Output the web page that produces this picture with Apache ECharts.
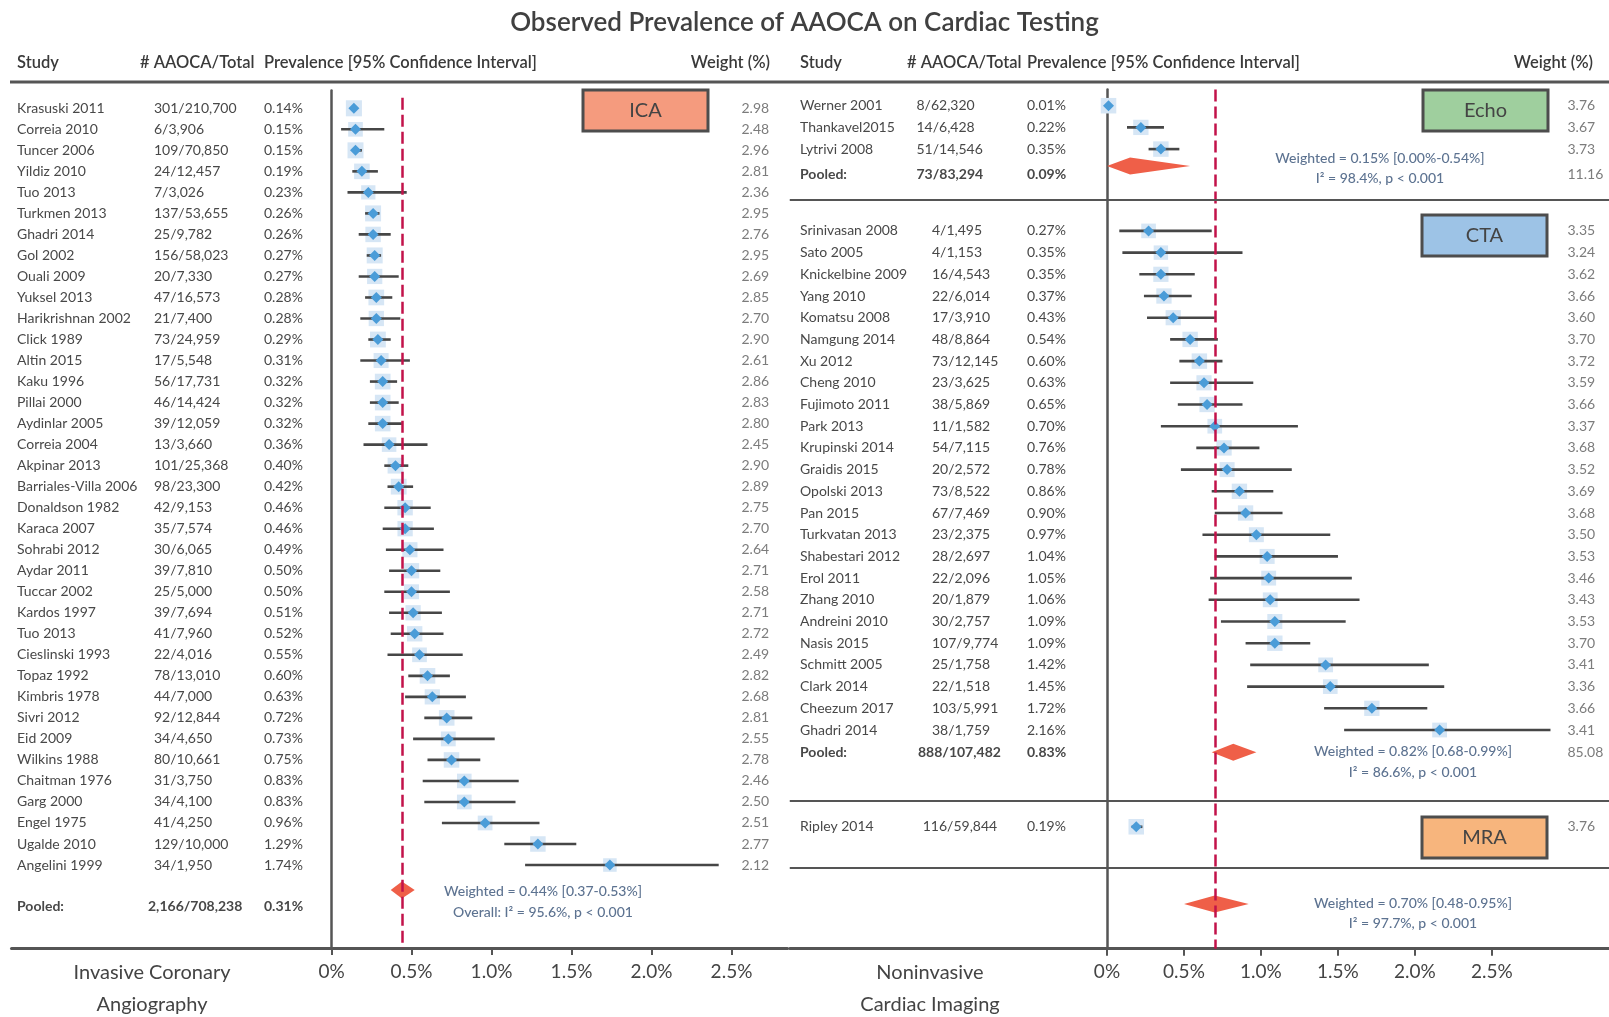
<!DOCTYPE html>
<html>
<head>
<meta charset="utf-8">
<title>Observed Prevalence of AAOCA on Cardiac Testing</title>
<script src="https://cdn.jsdelivr.net/npm/echarts@6.0.0/dist/echarts.min.js"></script>
<style>
  html, body { margin: 0; padding: 0; background: #fff; }
  #chart { width: 1609px; height: 1017px; }
</style>
</head>
<body>
<div id="chart"></div>
<script>
// ---- ICA (invasive coronary angiography) ----
const icaStudies = ['Krasuski 2011', 'Correia 2010', 'Tuncer 2006', 'Yildiz 2010', 'Tuo 2013', 'Turkmen 2013',
  'Ghadri 2014', 'Gol 2002', 'Ouali 2009', 'Yuksel 2013', 'Harikrishnan 2002', 'Click 1989', 'Altin 2015',
  'Kaku 1996', 'Pillai 2000', 'Aydinlar 2005', 'Correia 2004', 'Akpinar 2013', 'Barriales-Villa 2006',
  'Donaldson 1982', 'Karaca 2007', 'Sohrabi 2012', 'Aydar 2011', 'Tuccar 2002', 'Kardos 1997', 'Tuo 2013',
  'Cieslinski 1993', 'Topaz 1992', 'Kimbris 1978', 'Sivri 2012', 'Eid 2009', 'Wilkins 1988', 'Chaitman 1976',
  'Garg 2000', 'Engel 1975', 'Ugalde 2010', 'Angelini 1999'];
const icaCounts = ['301/210,700', '6/3,906', '109/70,850', '24/12,457', '7/3,026', '137/53,655', '25/9,782',
  '156/58,023', '20/7,330', '47/16,573', '21/7,400', '73/24,959', '17/5,548', '56/17,731', '46/14,424',
  '39/12,059', '13/3,660', '101/25,368', '98/23,300', '42/9,153', '35/7,574', '30/6,065', '39/7,810',
  '25/5,000', '39/7,694', '41/7,960', '22/4,016', '78/13,010', '44/7,000', '92/12,844', '34/4,650',
  '80/10,661', '31/3,750', '34/4,100', '41/4,250', '129/10,000', '34/1,950'];
const icaPrev = [0.14, 0.15, 0.15, 0.19, 0.23, 0.26, 0.26, 0.27, 0.27, 0.28, 0.28, 0.29, 0.31, 0.32, 0.32, 0.32,
  0.36, 0.40, 0.42, 0.46, 0.46, 0.49, 0.50, 0.50, 0.51, 0.52, 0.55, 0.60, 0.63, 0.72, 0.73, 0.75, 0.83, 0.83,
  0.96, 1.29, 1.74];
const icaLow = [0.12, 0.06, 0.13, 0.13, 0.10, 0.21, 0.17, 0.22, 0.17, 0.21, 0.18, 0.23, 0.18, 0.24, 0.24, 0.23,
  0.20, 0.33, 0.35, 0.33, 0.32, 0.34, 0.36, 0.33, 0.36, 0.37, 0.35, 0.48, 0.46, 0.58, 0.51, 0.60, 0.57, 0.58,
  0.69, 1.08, 1.21];
const icaHigh = [0.16, 0.33, 0.19, 0.29, 0.47, 0.30, 0.37, 0.31, 0.42, 0.38, 0.43, 0.37, 0.49, 0.41, 0.42, 0.44,
  0.60, 0.48, 0.51, 0.62, 0.64, 0.70, 0.68, 0.74, 0.69, 0.70, 0.82, 0.74, 0.84, 0.88, 1.02, 0.93, 1.17, 1.15,
  1.30, 1.53, 2.42];
const icaWeight = [2.98, 2.48, 2.96, 2.81, 2.36, 2.95, 2.76, 2.95, 2.69, 2.85, 2.70, 2.90, 2.61, 2.86, 2.83, 2.80,
  2.45, 2.90, 2.89, 2.75, 2.70, 2.64, 2.71, 2.58, 2.71, 2.72, 2.49, 2.82, 2.68, 2.81, 2.55, 2.78, 2.46, 2.50,
  2.51, 2.77, 2.12];

// ---- Echo ----
const echoStudies = ['Werner 2001', 'Thankavel2015', 'Lytrivi 2008'];
const echoCounts = ['8/62,320', '14/6,428', '51/14,546'];
const echoPrev = [0.01, 0.22, 0.35];
const echoLow = [0.00, 0.13, 0.27];
const echoHigh = [0.02, 0.37, 0.47];
const echoWeight = [3.76, 3.67, 3.73];

// ---- CTA ----
const ctaStudies = ['Srinivasan 2008', 'Sato 2005', 'Knickelbine 2009', 'Yang 2010', 'Komatsu 2008',
  'Namgung 2014', 'Xu 2012', 'Cheng 2010', 'Fujimoto 2011', 'Park 2013', 'Krupinski 2014', 'Graidis 2015',
  'Opolski 2013', 'Pan 2015', 'Turkvatan 2013', 'Shabestari 2012', 'Erol 2011', 'Zhang 2010', 'Andreini 2010',
  'Nasis 2015', 'Schmitt 2005', 'Clark 2014', 'Cheezum 2017', 'Ghadri 2014'];
const ctaCounts = ['4/1,495', '4/1,153', '16/4,543', '22/6,014', '17/3,910', '48/8,864', '73/12,145', '23/3,625',
  '38/5,869', '11/1,582', '54/7,115', '20/2,572', '73/8,522', '67/7,469', '23/2,375', '28/2,697', '22/2,096',
  '20/1,879', '30/2,757', '107/9,774', '25/1,758', '22/1,518', '103/5,991', '38/1,759'];
const ctaPrev = [0.27, 0.35, 0.35, 0.37, 0.43, 0.54, 0.60, 0.63, 0.65, 0.70, 0.76, 0.78, 0.86, 0.90, 0.97, 1.04,
  1.05, 1.06, 1.09, 1.09, 1.42, 1.45, 1.72, 2.16];
const ctaLow = [0.08, 0.10, 0.21, 0.24, 0.26, 0.41, 0.47, 0.41, 0.46, 0.35, 0.58, 0.48, 0.68, 0.70, 0.62, 0.70,
  0.67, 0.66, 0.74, 0.90, 0.93, 0.91, 1.41, 1.54];
const ctaHigh = [0.68, 0.88, 0.57, 0.55, 0.70, 0.72, 0.75, 0.95, 0.88, 1.24, 0.99, 1.20, 1.08, 1.14, 1.45, 1.50,
  1.59, 1.64, 1.55, 1.32, 2.09, 2.19, 2.08, 2.88];
const ctaWeight = [3.35, 3.24, 3.62, 3.66, 3.60, 3.70, 3.72, 3.59, 3.66, 3.37, 3.68, 3.52, 3.69, 3.68, 3.50, 3.53,
  3.46, 3.43, 3.53, 3.70, 3.41, 3.36, 3.66, 3.41];

// ---- MRA ----
const mraStudies = ['Ripley 2014'];
const mraCounts = ['116/59,844'];
const mraPrev = [0.19];
const mraLow = [0.16];
const mraHigh = [0.23];
const mraWeight = [3.76];

// ---- pooled estimates: ICA, Echo, CTA, overall noninvasive ----
const pooledCounts = ['2,166/708,238', '73/83,294', '888/107,482'];
const pooledPrev = ['0.31%', '0.09%', '0.83%'];
const pooledWeight = ['', '11.16', '85.08'];
const pooledEst = [0.44, 0.15, 0.82, 0.70];
const pooledLow = [0.37, 0.00, 0.68, 0.50];
const pooledHigh = [0.52, 0.54, 0.97, 0.92];
const statsLine1 = ['Weighted = 0.44% [0.37-0.53%]', 'Weighted = 0.15% [0.00%-0.54%]',
  'Weighted = 0.82% [0.68-0.99%]', 'Weighted = 0.70% [0.48-0.95%]'];
const statsLine2 = ['Overall: I² = 95.6%, p < 0.001', 'I² = 98.4%, p < 0.001',
  'I² = 86.6%, p < 0.001', 'I² = 97.7%, p < 0.001'];

const tickValues = [0, 0.5, 1, 1.5, 2, 2.5];

// ---- layout ----
const FONT = 'Lato, "Noto Sans", sans-serif';
const BODY = '14px ' + FONT;
const BOLD = 'bold 14px ' + FONT;
const L = { row0: 108.3, step: 21.02, min: -0.85, max: 39.95, zero: 331.5, perPct: 160, xMin: -2.0, xMax: 2.85 };
const R = { row0: 105.7, step: 21.7, min: -0.75, max: 38.85, zero: 1107, perPct: 154, xMin: -2.06, xMax: 3.26 };

const icaPos = icaStudies.map((s, i) => i);
const echoPos = echoStudies.map((s, i) => i);
const ctaPos = ctaStudies.map((s, i) => 5.77 + i);
const mraPos = [33.23];
const pooledTextPos = [37.95, 3.19, 29.8];
const diamondPos = [37.19, 2.78, 29.8, 36.79];
const statsPos = [[37.24, 38.24], [2.42, 3.35], [29.77, 30.72], [36.76, 37.68]];
const statsX = [543, 1380, 1413, 1413];

function gridOf(c) {
  return {
    left: c.zero + c.xMin * c.perPct,
    width: (c.xMax - c.xMin) * c.perPct,
    top: c.row0 + c.min * c.step,
    height: (c.max - c.min) * c.step
  };
}

function rowRender(k) {
  return function (params, api) {
    const pos = api.value(0);
    const c = api.coord([api.value(1), pos]);
    const lo = api.coord([api.value(2), pos]);
    const hi = api.coord([api.value(3), pos]);
    const s = k * Math.sqrt(api.value(4));
    const d = 5.5;
    return {
      type: 'group',
      children: [
        { type: 'rect', shape: { x: c[0] - s / 2, y: c[1] - s / 2, width: s, height: s }, style: { fill: '#d6e6f5' } },
        { type: 'line', shape: { x1: lo[0], y1: lo[1], x2: hi[0], y2: hi[1] }, style: { stroke: '#464646', lineWidth: 2.6 } },
        { type: 'polygon', shape: { points: [[c[0], c[1] - d], [c[0] + d, c[1]], [c[0], c[1] + d], [c[0] - d, c[1]]] },
          style: { fill: '#4a9cd8' } }
      ]
    };
  };
}

function rows(pos, prev, low, high, w) {
  return pos.map((p, i) => [p, prev[i], low[i], high[i], w[i]]);
}

function diamondRender(params, api) {
  const pos = api.value(0);
  const lo = api.coord([api.value(1), pos]);
  const mid = api.coord([api.value(2), pos]);
  const hi = api.coord([api.value(3), pos]);
  const h = 8.5;
  return {
    type: 'polygon',
    shape: { points: [[lo[0], lo[1]], [mid[0], mid[1] - h], [hi[0], hi[1]], [mid[0], mid[1] + h]] },
    style: { fill: '#ef5f48' }
  };
}

// one text column drawn at a fixed x, rows placed by the y axis
function textSeries(axis, x, pos, texts, opt) {
  opt = opt || {};
  return {
    type: 'custom', xAxisIndex: axis, yAxisIndex: axis, silent: true, z: 5,
    data: pos.map(p => [0, p]),
    renderItem: function (params, api) {
      const y = api.coord([0, api.value(1)])[1];
      return {
        type: 'text', x: x, y: y,
        style: {
          text: texts[params.dataIndex], font: opt.font || BODY, fill: opt.color || '#484848',
          align: opt.align || 'left', verticalAlign: 'middle'
        }
      };
    }
  };
}

const fmtPct = v => v.toFixed(2) + '%';
const fmtW = v => v.toFixed(2);
const STAT = { font: '500 14px ' + FONT, color: '#5d7391', align: 'center' };
const WCOL = { color: '#7c7c7c' };

const xAxisBase = (c, idx) => ({
  gridIndex: idx, type: 'value', min: c.xMin, max: c.xMax,
  axisLine: { onZero: false, lineStyle: { color: '#555', width: 3 } },
  axisTick: { customValues: tickValues, length: 7, lineStyle: { color: '#555', width: 2 } },
  axisLabel: {
    customValues: tickValues, margin: 14, fontSize: 19, color: '#444', fontFamily: FONT,
    formatter: v => (v === 0 ? '0%' : v.toFixed(1) + '%')
  },
  splitLine: { show: false }
});
const yAxisBase = (c, idx) => ({
  gridIndex: idx, type: 'value', inverse: true, min: c.min, max: c.max,
  axisLine: { show: true, onZero: true, lineStyle: { color: '#555', width: 2.5 } },
  axisTick: { show: false }, axisLabel: { show: false }, splitLine: { show: false }
});

const redLine = {
  silent: true, symbol: 'none', label: { show: false },
  lineStyle: { color: '#c2124a', type: [12, 5], width: 2.5 }
};

function groupBox(x, y, text, fill) {
  return {
    type: 'group', x: x, y: y,
    children: [
      { type: 'rect', shape: { x: 0, y: 0, width: 125, height: 41 }, style: { fill: fill, stroke: '#4d4d4d', lineWidth: 3 } },
      { type: 'text', x: 62.5, y: 20.5, style: { text: text, font: '20px ' + FONT, fill: '#444', align: 'center', verticalAlign: 'middle' } }
    ]
  };
}

function header(x, text, align) {
  return { type: 'text', x: x, y: 62.5, style: { text: text, font: '600 16.5px ' + FONT, fill: '#3a3a3a', align: align || 'left', verticalAlign: 'middle' } };
}

const rightPos = echoPos.concat(ctaPos, mraPos);

const option = {
  animation: false,
  backgroundColor: '#fff',
  title: {
    text: 'Observed Prevalence of AAOCA on Cardiac Testing', left: 'center', top: 5,
    textStyle: { fontSize: 26, fontWeight: 600, color: '#404040', fontFamily: FONT }
  },
  grid: [gridOf(L), gridOf(R)],
  xAxis: [xAxisBase(L, 0), xAxisBase(R, 1)],
  yAxis: [yAxisBase(L, 0), yAxisBase(R, 1)],
  graphic: [
    { type: 'line', shape: { x1: 10, y1: 82, x2: 1609, y2: 82 }, style: { stroke: '#555', lineWidth: 3 } },
    header(17, 'Study'), header(140, '# AAOCA/Total'), header(264, 'Prevalence [95% Confidence Interval]'),
    header(770, 'Weight (%)', 'right'),
    header(800, 'Study'), header(907, '# AAOCA/Total'), header(1027, 'Prevalence [95% Confidence Interval]'),
    header(1593, 'Weight (%)', 'right'),
    groupBox(583, 90, 'ICA', '#f59b7e'),
    groupBox(1423, 90, 'Echo', '#9fcf9e'),
    groupBox(1422, 215, 'CTA', '#9dc3e6'),
    groupBox(1422, 817, 'MRA', '#f7b57d'),
    { type: 'text', x: 152, y: 957, style: { text: 'Invasive Coronary\nAngiography', font: '20px ' + FONT, fill: '#444', align: 'center', verticalAlign: 'top', lineHeight: 32 } },
    { type: 'text', x: 930, y: 957, style: { text: 'Noninvasive\nCardiac Imaging', font: '20px ' + FONT, fill: '#444', align: 'center', verticalAlign: 'top', lineHeight: 32 } }
  ],
  series: [
    {
      type: 'custom', xAxisIndex: 0, yAxisIndex: 0, silent: true, z: 3,
      renderItem: rowRender(9.3),
      data: rows(icaPos, icaPrev, icaLow, icaHigh, icaWeight),
      markLine: Object.assign({}, redLine, { data: [[{ coord: [pooledEst[0], -0.5] }, { coord: [pooledEst[0], L.max] }]] })
    },
    {
      type: 'custom', xAxisIndex: 1, yAxisIndex: 1, silent: true, z: 3,
      renderItem: rowRender(8),
      data: rows(rightPos, echoPrev.concat(ctaPrev, mraPrev), echoLow.concat(ctaLow, mraLow),
        echoHigh.concat(ctaHigh, mraHigh), echoWeight.concat(ctaWeight, mraWeight)),
      markLine: Object.assign({}, redLine, { data: [[{ coord: [pooledEst[3], R.min] }, { coord: [pooledEst[3], R.max] }]] })
    },
    {
      // group separators on the right panel
      type: 'custom', xAxisIndex: 1, yAxisIndex: 1, silent: true, data: [], renderItem: () => null,
      markLine: { silent: true, symbol: 'none', label: { show: false }, lineStyle: { color: '#555', type: 'solid', width: 2 },
        data: [{ yAxis: 4.35 }, { yAxis: 32.03 }, { yAxis: 35.1 }] }
    },
    {
      type: 'custom', xAxisIndex: 0, yAxisIndex: 0, silent: true, z: 4, renderItem: diamondRender,
      data: [[diamondPos[0], pooledLow[0], pooledEst[0], pooledHigh[0]]]
    },
    {
      type: 'custom', xAxisIndex: 1, yAxisIndex: 1, silent: true, z: 4, renderItem: diamondRender,
      data: [1, 2, 3].map(i => [diamondPos[i], pooledLow[i], pooledEst[i], pooledHigh[i]])
    },
    // left text columns
    textSeries(0, 17, icaPos, icaStudies),
    textSeries(0, 154, icaPos, icaCounts),
    textSeries(0, 264, icaPos, icaPrev.map(fmtPct)),
    textSeries(0, 741.5, icaPos, icaWeight.map(fmtW), WCOL),
    textSeries(0, 17, [pooledTextPos[0]], ['Pooled:'], { font: BOLD }),
    textSeries(0, 148, [pooledTextPos[0]], [pooledCounts[0]], { font: BOLD }),
    textSeries(0, 264, [pooledTextPos[0]], [pooledPrev[0]], { font: BOLD }),
    textSeries(0, statsX[0], statsPos[0], [statsLine1[0], statsLine2[0]], STAT),
    // right text columns
    textSeries(1, 800, rightPos, echoStudies.concat(ctaStudies, mraStudies)),
    textSeries(1, 916.5, echoPos, echoCounts),
    textSeries(1, 932, ctaPos, ctaCounts),
    textSeries(1, 922.7, mraPos, mraCounts),
    textSeries(1, 1027, rightPos, echoPrev.concat(ctaPrev, mraPrev).map(fmtPct)),
    textSeries(1, 1567.5, rightPos, echoWeight.concat(ctaWeight, mraWeight).map(fmtW), WCOL),
    textSeries(1, 800, [pooledTextPos[1], pooledTextPos[2]], ['Pooled:', 'Pooled:'], { font: BOLD }),
    textSeries(1, 916.5, [pooledTextPos[1]], [pooledCounts[1]], { font: BOLD }),
    textSeries(1, 918, [pooledTextPos[2]], [pooledCounts[2]], { font: BOLD }),
    textSeries(1, 1027, [pooledTextPos[1], pooledTextPos[2]], [pooledPrev[1], pooledPrev[2]], { font: BOLD }),
    textSeries(1, 1567.5, [pooledTextPos[1], pooledTextPos[2]], [pooledWeight[1], pooledWeight[2]], WCOL),
    textSeries(1, statsX[1], statsPos[1], [statsLine1[1], statsLine2[1]], STAT),
    textSeries(1, statsX[2], statsPos[2], [statsLine1[2], statsLine2[2]], STAT),
    textSeries(1, statsX[3], statsPos[3], [statsLine1[3], statsLine2[3]], STAT)
  ]
};

const chart = echarts.init(document.getElementById('chart'));
chart.setOption(option);
</script>
</body>
</html>
